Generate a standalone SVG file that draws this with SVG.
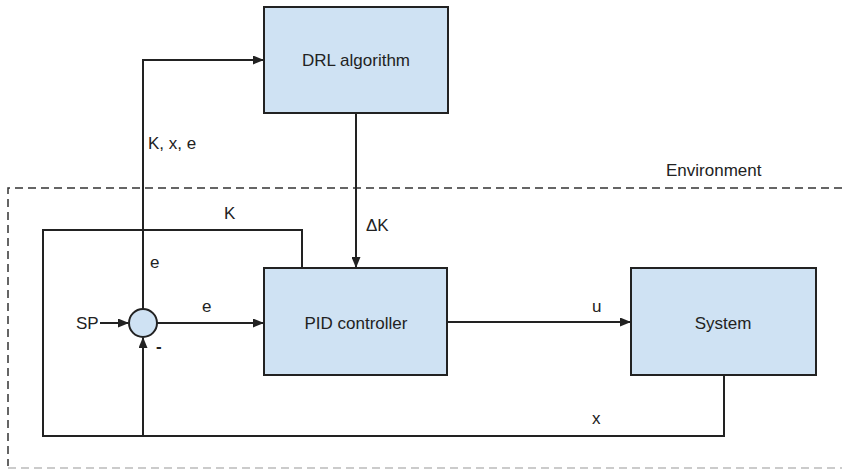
<svg xmlns="http://www.w3.org/2000/svg" width="842" height="469" viewBox="0 0 842 469">
<defs>
<style>
.box{fill:#cfe2f3;stroke:#222;stroke-width:2}
.ln{fill:none;stroke:#222;stroke-width:2}
.t{font-family:"Liberation Sans",Arial,sans-serif;font-size:17px;fill:#222}
.c{text-anchor:middle}
.dash{fill:none;stroke:#333;stroke-width:1.5;stroke-dasharray:8 5}
</style>
<marker id="ah" markerWidth="11" markerHeight="9" refX="10" refY="4.5" orient="auto" markerUnits="userSpaceOnUse">
<path d="M0,0 L11,4.5 L0,9 Z" fill="#222"/>
</marker>
</defs>
<rect width="842" height="469" fill="#fff"/>
<g id="environment">
<path class="dash" d="M842,188 H8 V466"/>
<path class="dash" d="M8,468 H842" stroke="#bbb" style="stroke:#bbb"/>
<text class="t" x="666" y="176">Environment</text>
</g>
<g id="connectors">
<path class="ln" d="M143,309 V60 H263" marker-end="url(#ah)"/>
<path class="ln" d="M356,113 V267" marker-end="url(#ah)"/>
<path class="ln" d="M302,268 V230 H43 V436 H724 V375"/>
<path class="ln" d="M143,436 V338" marker-end="url(#ah)"/>
<path class="ln" d="M100,323 H128" marker-end="url(#ah)"/>
<path class="ln" d="M157,323 H263" marker-end="url(#ah)"/>
<path class="ln" d="M447,322 H630" marker-end="url(#ah)"/>
<text class="t" x="148" y="149">K, x, e</text>
<text class="t" x="224" y="219">K</text>
<text class="t" x="366" y="231">ΔK</text>
<text class="t" x="150" y="268">e</text>
<text class="t" x="202" y="312">e</text>
<text class="t" x="76" y="329">SP</text>
<text class="t" x="156" y="352" style="font-weight:bold">-</text>
<text class="t" x="592" y="312">u</text>
<text class="t" x="592" y="424">x</text>
</g>
<g id="drl">
<rect class="box" x="264" y="7" width="184" height="106"/>
<text class="t c" x="356" y="66">DRL algorithm</text>
</g>
<g id="pid">
<rect class="box" x="264" y="268" width="183" height="107"/>
<text class="t c" x="356" y="329">PID controller</text>
</g>
<g id="system">
<rect class="box" x="631" y="268" width="185" height="107"/>
<text class="t c" x="723" y="329">System</text>
</g>
<g id="sum">
<circle class="box" cx="143" cy="323" r="14"/>
</g>
</svg>
